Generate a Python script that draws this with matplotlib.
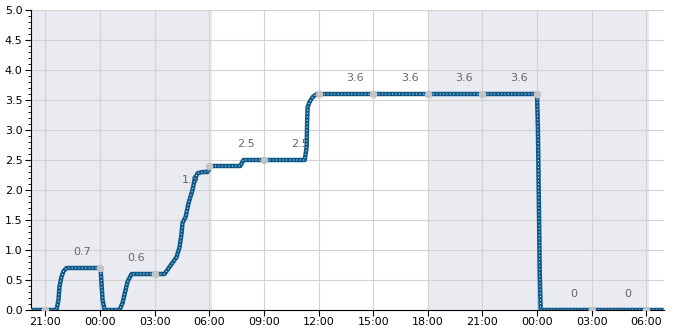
import numpy as np
import matplotlib
matplotlib.use("Agg")
import matplotlib.pyplot as plt
from matplotlib.ticker import MultipleLocator, FuncFormatter

# hours relative to 00:00 of the first night
hours = [-3.8, -2.39, -2.28, -2.23, -2.12, -2.0, -1.84, 0.03, 0.08, 0.14, 0.25,
         1.07, 1.24, 1.4, 1.51, 1.73, 3.54, 3.82, 4.2, 4.37, 4.48, 4.53, 4.7,
         4.86, 5.08, 5.19, 5.36, 5.63, 5.9, 6.1, 7.7, 7.88, 11.24, 11.35, 11.37,
         11.4, 11.51, 11.68, 11.9, 24.0, 24.05, 24.1, 24.15, 24.2, 30.96]
values = [0, 0, 0.17, 0.38, 0.55, 0.65, 0.7, 0.7, 0.45, 0.17, 0,
          0, 0.12, 0.33, 0.47, 0.6, 0.6, 0.72, 0.88, 1.05, 1.28, 1.45, 1.55,
          1.78, 2.0, 2.17, 2.28, 2.3, 2.3, 2.4, 2.4, 2.5, 2.5, 2.72, 3.1,
          3.38, 3.47, 3.55, 3.6, 3.6, 3.0, 1.8, 0.6, 0, 0]

# 3-hourly sample points and the per-interval labels
mark_hours = [-3, 0, 3, 6, 9, 12, 15, 18, 21, 24, 27, 30]
mark_values = [0, 0.7, 0.6, 2.4, 2.5, 3.6, 3.6, 3.6, 3.6, 3.6, 0, 0]
label_values = ["0.7", "0.6", "1.9", "2.5", "2.5", "3.6", "3.6", "3.6", "3.6", "0", "0"]
label_pos = [0.7, 0.6, 1.9, 2.5, 2.5, 3.6, 3.6, 3.6, 3.6, 0, 0]

# night periods
nights = [(-3.8, 6.13), (18.0, 30.15)]

fig = plt.figure(figsize=(6.85, 3.3), dpi=100)
ax = fig.add_axes([0.045, 0.0606, 0.924, 0.9091])

for a, b in nights:
    ax.axvspan(a, b, color="#eaebf1", lw=0, zorder=0)

ax.plot(hours, values, color="#0d5a8a", lw=3.2, solid_capstyle="butt", zorder=3)
ax.plot(hours, values, color="white", lw=0.7, ls=(0, (1, 2.5)), zorder=4)
ax.plot(mark_hours, mark_values, "o", color="#c4c4c4", ms=5.5, mec="none", zorder=5)

for i, (txt, v) in enumerate(zip(label_values, label_pos)):
    ax.text(mark_hours[i] + 2.0, v + 0.26, txt, ha="center", va="center",
            fontsize=8, color="#666666", zorder=2)

ax.set_xlim(-3.8, 30.96)
ax.set_ylim(0, 5)
ax.set_xticks(mark_hours)
ax.xaxis.set_major_formatter(FuncFormatter(lambda x, p: "%02d:00" % (int(round(x)) % 24)))
ax.yaxis.set_major_locator(MultipleLocator(0.5))
ax.yaxis.set_minor_locator(MultipleLocator(0.1))
ax.yaxis.set_major_formatter(FuncFormatter(lambda y, p: "%.1f" % y))

ax.grid(True, which="major", color="#d2d2d2", lw=0.8, zorder=1)
ax.set_axisbelow(True)
for s in ["top", "right"]:
    ax.spines[s].set_visible(False)
ax.tick_params(axis="both", which="major", length=4, labelsize=8, direction="out")
ax.tick_params(axis="x", which="major", pad=1)
ax.tick_params(axis="y", which="major", pad=2)
ax.tick_params(axis="y", which="minor", length=2.5)

fig.savefig("out.png", dpi=100)
